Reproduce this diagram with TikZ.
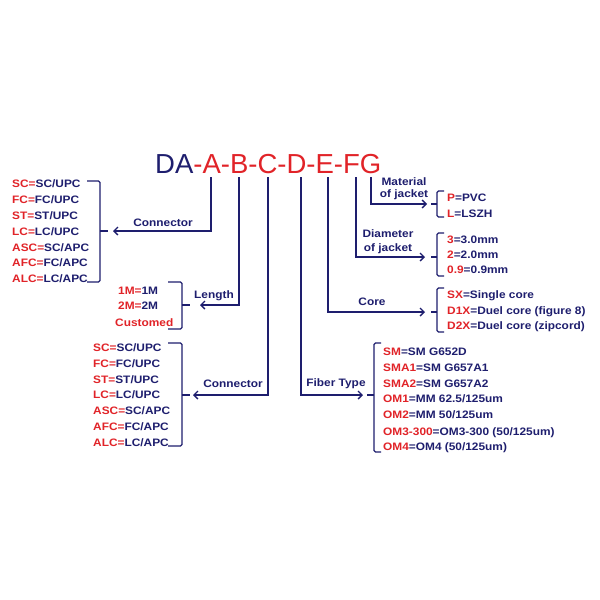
\documentclass[tikz,border=0pt]{standalone}
\usepackage{fontspec}
\setmainfont{Liberation Sans}
\newfontfamily\lab[FakeStretch=1.1]{Liberation Sans}
\usetikzlibrary{arrows.meta}
\definecolor{navy}{RGB}{30,30,110}
\definecolor{cred}{RGB}{225,35,40}
\newcommand{\kvl}[2]{\textcolor{cred}{#1=}#2}
\newcommand{\kvr}[2]{\textcolor{cred}{#1}=#2}
\tikzset{
 txt/.style={font=\lab\bfseries\fontsize{10.8}{12}\selectfont, text=navy, inner sep=0pt, anchor=base west},
 lbl/.style={txt, anchor=base},
 conn/.style={draw=navy, line width=1.6pt, -{Straight Barb[length=4pt,width=8pt,line width=1.4pt]}},
 brk/.style={draw=navy, line width=1.4pt, rounded corners=1.5pt},
}
\begin{document}
\begin{tikzpicture}[x=1pt,y=-1pt]
\useasboundingbox[fill=white] (0,0) rectangle (600,600);
% title
\node[inner sep=0pt, anchor=base west, font=\fontsize{27.5}{30}\selectfont] (title) at (155,173)
  {\textcolor{navy}{DA}\textcolor{cred}{-A-B-C-D-E-FG}};
\coordinate (ta) at (211,177);
\coordinate (tb) at (239,177);
\coordinate (tc) at (268,177);
\coordinate (td) at (301,177);
\coordinate (te) at (328,177);
\coordinate (tf) at (356,177);
\coordinate (tg) at (371,177);
% arrow ends
\coordinate (ea) at (113,231);
\coordinate (eb) at (200,305);
\coordinate (ec) at (193,395);
\coordinate (ed) at (363,395);
\coordinate (ee) at (425,312);
\coordinate (ef) at (425,257);
\coordinate (eg) at (427,204);
\draw[conn] (ta) |- (ea);
\draw[conn] (tb) |- (eb);
\draw[conn] (tc) |- (ec);
\draw[conn] (td) |- (ed);
\draw[conn] (te) |- (ee);
\draw[conn] (tf) |- (ef);
\draw[conn] (tg) |- (eg);
% labels
\node[lbl] (lconn1) at (163,226) {Connector};
\node[lbl] (llen) at (214,298) {Length};
\node[lbl] (lconn2) at (233,387) {Connector};
\node[lbl] (lfib) at (336,386) {Fiber Type};
\node[lbl] (lcore) at (372,305) {Core};
\node[lbl] (ldia1) at (388,237) {Diameter};
\node[lbl] (ldia2) at (388,251) {of jacket};
\node[lbl] (lmat1) at (404,185) {Material};
\node[lbl] (lmat2) at (404,197) {of jacket};
% brackets
\draw[brk] (87,181) -- (100,181) -- (100,282) -- (87,282);
\draw[brk] (100,231) -- (108,231);
\draw[brk] (168,282) -- (182,282) -- (182,329) -- (168,329);
\draw[brk] (182,305) -- (190,305);
\draw[brk] (168,343) -- (182,343) -- (182,446) -- (168,446);
\draw[brk] (182,395) -- (190,395);
\draw[brk] (444,191) -- (437,191) -- (437,217) -- (444,217);
\draw[brk] (437,204) -- (431,204);
\draw[brk] (444,233) -- (437,233) -- (437,276) -- (444,276);
\draw[brk] (437,257) -- (431,257);
\draw[brk] (444,288) -- (437,288) -- (437,332) -- (444,332);
\draw[brk] (437,312) -- (431,312);
\draw[brk] (381,343) -- (374,343) -- (374,452) -- (381,452);
\draw[brk] (374,395) -- (367,395);
% top-left connector list
\node[txt] (c1a) at (12,187) {\kvl{SC}{SC/UPC}};
\node[txt] (c1b) at (12,203) {\kvl{FC}{FC/UPC}};
\node[txt] (c1c) at (12,219) {\kvl{ST}{ST/UPC}};
\node[txt] (c1d) at (12,235) {\kvl{LC}{LC/UPC}};
\node[txt] (c1e) at (12,251) {\kvl{ASC}{SC/APC}};
\node[txt] (c1f) at (12,266) {\kvl{AFC}{FC/APC}};
\node[txt] (c1g) at (12,282) {\kvl{ALC}{LC/APC}};
% length list
\node[txt] (l1) at (118,294) {\kvl{1M}{1M}};
\node[txt] (l2) at (118,309) {\kvl{2M}{2M}};
\node[txt, text=cred] (l3) at (115,326) {Customed};
% second connector list
\node[txt] (c2a) at (93,351) {\kvl{SC}{SC/UPC}};
\node[txt] (c2b) at (93,367) {\kvl{FC}{FC/UPC}};
\node[txt] (c2c) at (93,383) {\kvl{ST}{ST/UPC}};
\node[txt] (c2d) at (93,398) {\kvl{LC}{LC/UPC}};
\node[txt] (c2e) at (93,414) {\kvl{ASC}{SC/APC}};
\node[txt] (c2f) at (93,430) {\kvl{AFC}{FC/APC}};
\node[txt] (c2g) at (93,446) {\kvl{ALC}{LC/APC}};
% material
\node[txt] (m1) at (447,201) {\kvr{P}{PVC}};
\node[txt] (m2) at (447,217) {\kvr{L}{LSZH}};
% diameter
\node[txt] (d1) at (447,243) {\kvr{3}{3.0mm}};
\node[txt] (d2) at (447,258) {\kvr{2}{2.0mm}};
\node[txt] (d3) at (447,273) {\kvr{0.9}{0.9mm}};
% core
\node[txt] (k1) at (447,298) {\kvr{SX}{Single core}};
\node[txt] (k2) at (447,314) {\kvr{D1X}{Duel core (figure 8)}};
\node[txt] (k3) at (447,329) {\kvr{D2X}{Duel core (zipcord)}};
% fiber type
\node[txt] (f1) at (383,355) {\kvr{SM}{SM G652D}};
\node[txt] (f2) at (383,371) {\kvr{SMA1}{SM G657A1}};
\node[txt] (f3) at (383,387) {\kvr{SMA2}{SM G657A2}};
\node[txt] (f4) at (383,402) {\kvr{OM1}{MM 62.5/125um}};
\node[txt] (f5) at (383,418) {\kvr{OM2}{MM 50/125um}};
\node[txt] (f6) at (383,435) {\kvr{OM3-300}{OM3-300 (50/125um)}};
\node[txt] (f7) at (383,450) {\kvr{OM4}{OM4 (50/125um)}};
\end{tikzpicture}
\end{document}
